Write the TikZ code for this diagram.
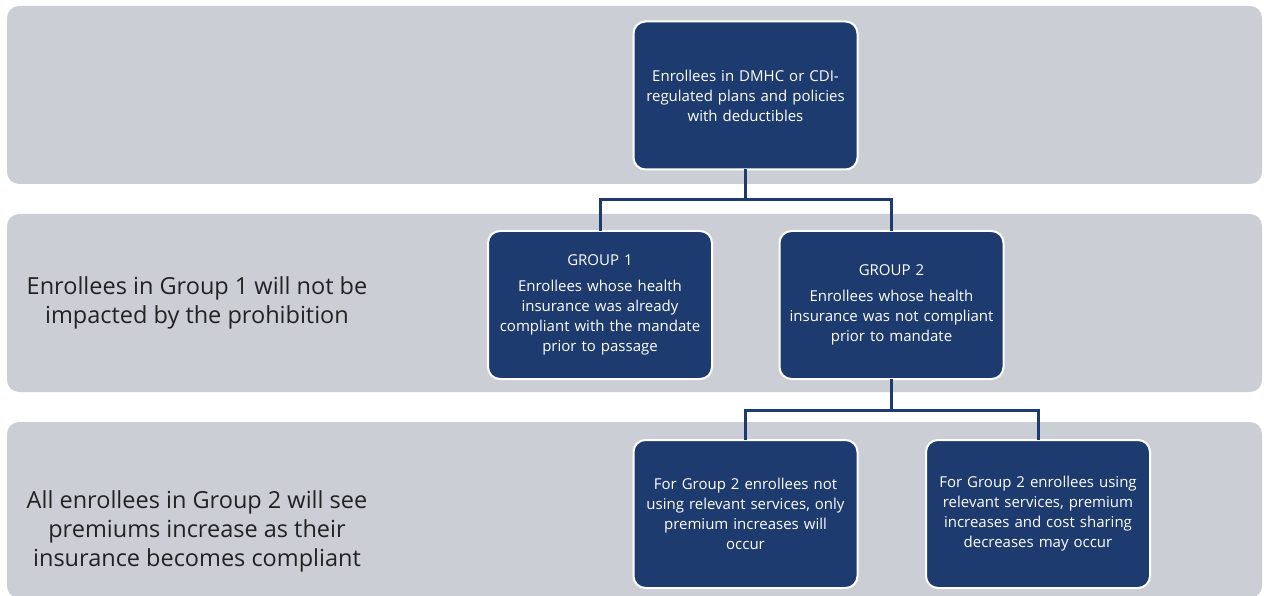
\documentclass[tikz,border=0pt]{standalone}
\usepackage{fontspec}
\setmainfont{Open Sans}
\definecolor{ccbced5}{RGB}{203,206,213}
\definecolor{c1d3b6e}{RGB}{29,59,110}
\definecolor{c222222}{RGB}{34,34,34}
\begin{document}
\begin{tikzpicture}[y=-1pt, x=1pt, inner sep=0pt, outer sep=0pt,
  band/.style={fill=ccbced5, rounded corners=12pt},
  navybox/.style={fill=c1d3b6e, draw=white, line width=2pt, rounded corners=12pt,
    minimum width=224pt, minimum height=148pt, text width=218pt, align=center,
    text=white, font=\fontsize{15}{20}\selectfont},
  sidetext/.style={text=c222222, align=center, font=\fontsize{23.5}{29}\selectfont},
  link/.style={draw=c1d3b6e, line width=3pt}]
\useasboundingbox (0,0) rectangle (1264,596);
  \path[band] (7,6) rectangle (1262,184);
  \path[band] (7,214) rectangle (1262,392);
  \path[band] (7,422) rectangle (1262,598);
  \path (745.5,95.5) node[navybox] (boxTop) {Enrollees in DMHC or CDI-\\regulated plans and policies\\with deductibles};
  \path (600,305) node[navybox] (boxGroupA) {GROUP 1\\[6pt]Enrollees whose health\\insurance was already\\compliant with the mandate\\prior to passage};
  \path (891.5,305) node[navybox] (boxGroupB) {GROUP 2\\[6pt]Enrollees whose health\\insurance was not compliant\\prior to mandate};
  \path (745.5,514) node[navybox] (boxNoUse) {For Group 2 enrollees not\\using relevant services, only\\premium increases will\\occur};
  \path (1038,514) node[navybox] (boxUse) {For Group 2 enrollees using\\relevant services, premium\\increases and cost sharing\\decreases may occur};
  \path (197,303) node[sidetext] (textGroupA) {Enrollees in Group 1 will not be\\impacted by the prohibition};
  \path (197,531) node[sidetext] (textGroupB) {All enrollees in Group 2 will see\\premiums increase as their\\insurance becomes compliant};
  \coordinate (splitTop) at (745.5,200);
  \coordinate (splitB) at (891.5,410);
  \path[link] (boxTop.south) -- (splitTop);
  \path[link] (boxGroupA.north) |- (splitTop) -| (boxGroupB.north);
  \path[link] (boxGroupB.south) -- (splitB);
  \path[link] (boxNoUse.north) |- (splitB) -| (boxUse.north);
\end{tikzpicture}
\end{document}
